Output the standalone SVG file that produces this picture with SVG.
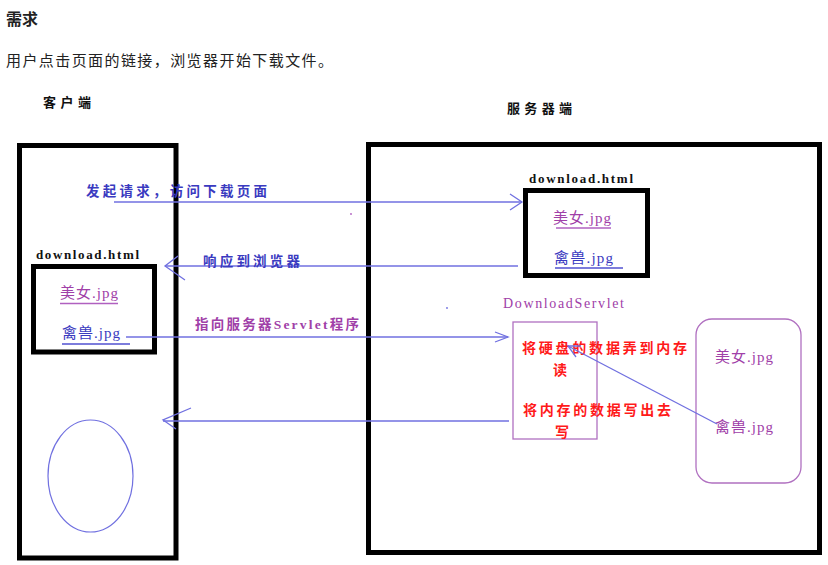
<svg xmlns="http://www.w3.org/2000/svg" width="828" height="565" viewBox="0 0 828 565">
<style>
.box{fill:none;stroke:#000;stroke-width:5}
.thin{fill:none;stroke:#b070c0;stroke-width:1.3}
.conn{fill:none;stroke:#7070e0;stroke-width:1.3}
.hd{font-family:"Noto Sans CJK SC",sans-serif;fill:#222}
.lbl{font-family:"Liberation Serif","Noto Sans CJK SC",serif;font-weight:bold;fill:#111;font-size:13px}
.blue{font-family:"Liberation Serif","Noto Sans CJK SC",serif;fill:#3a3ac0;font-size:13.5px;font-weight:bold}
.purple{font-family:"Liberation Serif","Noto Sans CJK SC",serif;fill:#a040a8;font-size:13.5px;font-weight:bold}
.fp{font-family:"Liberation Serif","Noto Sans CJK SC",serif;fill:#a040a8;font-size:15px}
.fb{font-family:"Liberation Serif","Noto Sans CJK SC",serif;fill:#3a3ac0;font-size:15px}
.red{font-family:"Liberation Serif","Noto Sans CJK SC",serif;fill:#ff1a1a;font-size:14px;font-weight:bold}
.ul-p{stroke:#b060c0;stroke-width:1.3}
.ul-b{stroke:#5050d0;stroke-width:1.3}
</style>
<rect width="828" height="565" fill="#fff"/>
<g id="header">
<text class="hd" x="6" y="25" font-size="16" font-weight="bold">需求</text>
<text class="hd" x="6" y="66" font-size="15" textLength="327" lengthAdjust="spacing" fill="#333">用户点击页面的链接，浏览器开始下载文件。</text>
</g>
<g id="client">
<text class="lbl" x="43" y="107" textLength="48" lengthAdjust="spacing">客户端</text>
<rect class="box" x="19.5" y="145.5" width="156.5" height="412.5"/>
<ellipse cx="90.5" cy="476" rx="42.5" ry="56" fill="none" stroke="#7070e0" stroke-width="1.2"/>
</g>
<g id="client-download">
<text class="lbl" x="36" y="259" textLength="103" lengthAdjust="spacing">download.html</text>
<rect class="box" x="33.5" y="266.5" width="121" height="85.5"/>
<text class="fp" x="60" y="298" textLength="58" lengthAdjust="spacing">美女.jpg</text>
<line class="ul-p" x1="60" y1="303.5" x2="118" y2="303.5"/>
<text class="fb" x="62" y="338" textLength="58" lengthAdjust="spacing">禽兽.jpg</text>
<line class="ul-b" x1="62" y1="344" x2="130" y2="344"/>
</g>
<g id="server">
<text class="lbl" x="507" y="113" textLength="65" lengthAdjust="spacing">服务器端</text>
<rect class="box" x="368.5" y="144.5" width="451" height="408"/>
</g>
<g id="server-download">
<text class="lbl" x="529" y="183" textLength="104" lengthAdjust="spacing">download.html</text>
<rect class="box" x="525.5" y="190.5" width="122" height="85"/>
<text class="fp" x="553" y="223" textLength="58" lengthAdjust="spacing">美女.jpg</text>
<line class="ul-p" x1="556" y1="228" x2="611" y2="228"/>
<text class="fb" x="554" y="263" textLength="59" lengthAdjust="spacing">禽兽.jpg</text>
<line class="ul-b" x1="555" y1="268" x2="623" y2="268"/>
</g>
<g id="servlet">
<text x="503" y="308" font-family="Liberation Serif,serif" font-size="14" fill="#a040a8" textLength="121" lengthAdjust="spacing">DownloadServlet</text>
<rect class="thin" x="513" y="322" width="84" height="117"/>
<text class="red" x="522" y="353" textLength="165" lengthAdjust="spacing">将硬盘的数据弄到内存</text>
<text class="red" x="553" y="375">读</text>
<text class="red" x="523" y="415" textLength="148" lengthAdjust="spacing">将内存的数据写出去</text>
<text class="red" x="555" y="437">写</text>
</g>
<g id="disk">
<rect class="thin" x="696" y="319" width="105" height="164" rx="16"/>
<text class="fp" x="715" y="362" textLength="58" lengthAdjust="spacing">美女.jpg</text>
<text class="fp" x="715" y="432" textLength="58" lengthAdjust="spacing">禽兽.jpg</text>
</g>
<g id="connectors">
<line class="conn" x1="114" y1="202" x2="522" y2="202"/>
<path class="conn" d="M510,194 L522,202 L510,210"/>
<text class="blue" x="86" y="196" textLength="181" lengthAdjust="spacing">发起请求，访问下载页面</text>
<line class="conn" x1="518" y1="266" x2="165" y2="266"/>
<path class="conn" d="M178,256 L165,266 L185,280"/>
<text class="blue" x="203" y="266" textLength="97" lengthAdjust="spacing">响应到浏览器</text>
<line class="conn" x1="126" y1="337" x2="508" y2="337"/>
<path class="conn" d="M495,332 L508,337 L495,342"/>
<text class="purple" x="195" y="329" textLength="164" lengthAdjust="spacing">指向服务器Servlet程序</text>
<line class="conn" x1="509" y1="421" x2="163" y2="421"/>
<path class="conn" d="M191,408 L163,420 L176,429"/>
<line class="conn" x1="717" y1="424" x2="568" y2="346"/>
<path class="conn" d="M581,346 L568,346 L576,357"/>
<circle cx="351" cy="214" r="0.9" fill="#b060c0"/>
<circle cx="447" cy="308" r="0.9" fill="#7070e0"/>
</g>
</svg>
